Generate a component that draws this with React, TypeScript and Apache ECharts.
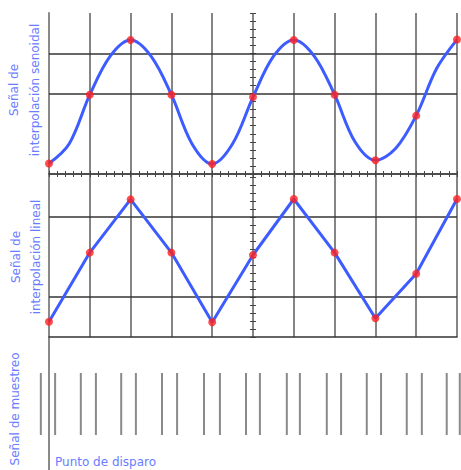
import React, { useEffect, useRef } from 'react';
import * as echarts from 'echarts';

// ---- data ----
const sampleX = [0, 1, 2, 3, 4, 5, 6, 7, 8, 9, 10];
const sineDotY = [0.26, 1.97, 3.33, 1.97, 0.25, 1.91, 3.33, 1.97, 0.34, 1.45, 3.34];
const sineCurveX = [0, 0.5, 1, 1.5, 2, 2.5, 3, 3.5, 4, 4.5, 5, 5.5, 6, 6.5, 7, 7.5, 8, 8.5, 9, 9.5, 10];
const sineCurveY = [0.26, 0.76, 1.97, 2.93, 3.33, 2.93, 1.97, 0.76, 0.25, 0.75, 1.91, 2.92, 3.33, 2.93, 1.97, 0.8, 0.34, 0.64, 1.45, 2.62, 3.34];
const linearDotY = [0.38, 2.11, 3.44, 2.11, 0.37, 2.05, 3.45, 2.11, 0.47, 1.58, 3.45];
const topGridLines = [2, 3];
const midGridLines = [1, 3];
const pulseX = [-0.2, 0.15, 0.78, 1.15, 1.77, 2.13, 2.77, 3.14, 3.8, 4.19, 4.83, 5.17, 5.83, 6.15, 6.81, 7.16, 7.79, 8.14, 8.77, 9.14, 9.75, 10.07];
const pulseLow = 35;
const pulseHigh = 97;

const labelSine = 'Señal de\ninterpolación senoidal';
const labelLinear = 'Señal de\ninterpolación lineal';
const labelSample = 'Señal de muestreo';
const labelTrigger = 'Punto de disparo';

const BLUE = '#3d5cff';
const RED = '#ff2020';
const LABEL = '#6a7cff';
const VGRID = '#858585';
const HGRID = '#353535';
const TICK = '#444';

const pairs = (xs: number[], ys: number[]) => xs.map((x, i) => [x, ys[i]]);

function centerAxes(gridIndex: number, max: number) {
  const base = {
    gridIndex,
    type: 'value',
    min: 0,
    max,
    interval: 1,
    offset: -204,
    axisLine: { show: false, onZero: false },
    axisTick: { show: true, length: 3, lineStyle: { color: TICK, width: 1 } },
    minorTick: { show: true, splitNumber: 5, length: 3, lineStyle: { color: TICK, width: 1 } },
    axisLabel: { show: false },
    splitLine: { show: false },
  };
  return [
    { ...base, position: 'left' },
    { ...base, position: 'right' },
  ];
}

function mainY(gridIndex: number, max: number) {
  return {
    gridIndex,
    type: 'value',
    min: 0,
    max,
    interval: 1,
    position: 'left',
    axisLine: { show: true, onZero: false, lineStyle: { color: '#8a8a8a', width: 2 } },
    axisTick: { show: false },
    axisLabel: { show: false },
    splitLine: { show: false },
  };
}

function tickedX(gridIndex: number, position: string) {
  return {
    gridIndex,
    type: 'value',
    min: 0,
    max: 10,
    interval: 1,
    position,
    axisLine: { show: true, onZero: false, lineStyle: { color: TICK, width: 1.5 } },
    axisTick: { show: true, inside: true, length: 3, lineStyle: { color: TICK, width: 1 } },
    minorTick: { show: true, splitNumber: 5, length: 3, lineStyle: { color: TICK, width: 1 } },
    axisLabel: { show: false },
    splitLine: { show: true, lineStyle: { color: VGRID, width: 2 } },
  };
}

const hLines = (vals: number[]) => ({
  symbol: ['none', 'none'],
  silent: true,
  z: 1,
  label: { show: false },
  lineStyle: { color: HGRID, width: 1.5, type: 'solid' },
  data: vals.map((v) => ({ yAxis: v })),
});

export default function App() {
  const ref = useRef<HTMLDivElement>(null);
  useEffect(() => {
    if (!ref.current) return;
    const chart = echarts.init(ref.current, undefined, { renderer: 'svg' });
    const option: any = {
      animation: false,
      backgroundColor: '#ffffff',
      grid: [
        { left: 49, top: 13, width: 408, height: 161 },
        { left: 49, top: 174, width: 408, height: 163 },
        { left: 32.68, top: 337, width: 428.4, height: 133 },
      ],
      xAxis: [
        tickedX(0, 'bottom'),
        tickedX(1, 'top'),
        {
          gridIndex: 1, type: 'value', min: 0, max: 10, interval: 1, position: 'bottom',
          axisLine: { show: true, onZero: false, lineStyle: { color: HGRID, width: 1.5 } },
          axisTick: { show: false }, axisLabel: { show: false }, splitLine: { show: false },
        },
        {
          gridIndex: 2, type: 'value', min: -0.4, max: 10.1,
          axisLine: { show: false, onZero: false }, axisTick: { show: false },
          axisLabel: { show: false }, splitLine: { show: false },
        },
      ],
      yAxis: [
        mainY(0, 4),
        ...centerAxes(0, 4),
        mainY(1, 4.075),
        ...centerAxes(1, 4.075),
        {
          gridIndex: 2, type: 'value', min: 0, max: 133,
          axisLine: { show: true, onZero: true, lineStyle: { color: '#8a8a8a', width: 2 } },
          axisTick: { show: false }, axisLabel: { show: false }, splitLine: { show: false },
        },
      ],
      series: [
        {
          type: 'line', xAxisIndex: 0, yAxisIndex: 0, z: 3, clip: false,
          data: pairs(sineCurveX, sineCurveY), smooth: 0.34, showSymbol: false, symbol: 'none',
          lineStyle: { color: BLUE, width: 3 },
          markLine: hLines(topGridLines),
        },
        {
          type: 'scatter', xAxisIndex: 0, yAxisIndex: 0, z: 5, clip: false,
          data: pairs(sampleX, sineDotY), symbolSize: 8, itemStyle: { color: RED },
        },
        {
          type: 'line', xAxisIndex: 1, yAxisIndex: 3, z: 3, clip: false,
          data: pairs(sampleX, linearDotY), showSymbol: false, symbol: 'none',
          lineStyle: { color: BLUE, width: 3 },
          markLine: hLines(midGridLines),
        },
        {
          type: 'scatter', xAxisIndex: 1, yAxisIndex: 3, z: 5, clip: false,
          data: pairs(sampleX, linearDotY), symbolSize: 8, itemStyle: { color: RED },
        },
        {
          type: 'custom', xAxisIndex: 3, yAxisIndex: 6, clip: false,
          data: pulseX.map((x) => [x, pulseLow, pulseHigh]),
          encode: { x: 0, y: [1, 2] },
          renderItem: (params: any, api: any) => {
            const x = api.value(0);
            const p1 = api.coord([x, api.value(1)]);
            const p2 = api.coord([x, api.value(2)]);
            return {
              type: 'line',
              shape: { x1: p1[0], y1: p1[1], x2: p2[0], y2: p2[1] },
              style: { stroke: '#8a8a8a', lineWidth: 2 },
            };
          },
        },
      ],
      graphic: [
        {
          type: 'text', x: 24, y: 90, rotation: Math.PI / 2,
          style: { text: labelSine, align: 'center', verticalAlign: 'middle', fill: LABEL, fontSize: 12, fontFamily: 'DejaVu Sans', lineHeight: 21 },
        },
        {
          type: 'text', x: 25.5, y: 257, rotation: Math.PI / 2,
          style: { text: labelLinear, align: 'center', verticalAlign: 'middle', fill: LABEL, fontSize: 12, fontFamily: 'DejaVu Sans', lineHeight: 20 },
        },
        {
          type: 'text', x: 15, y: 409, rotation: Math.PI / 2,
          style: { text: labelSample, align: 'center', verticalAlign: 'middle', fill: LABEL, fontSize: 12, fontFamily: 'DejaVu Sans' },
        },
        {
          type: 'text', x: 55, y: 462,
          style: { text: labelTrigger, align: 'left', verticalAlign: 'middle', fill: LABEL, fontSize: 12, fontFamily: 'DejaVu Sans' },
        },
      ],
    };
    chart.setOption(option);
    return () => chart.dispose();
  }, []);
  return <div ref={ref} style={{ position: 'absolute', left: 0, top: 0, width: 461, height: 470 }} />;
}
